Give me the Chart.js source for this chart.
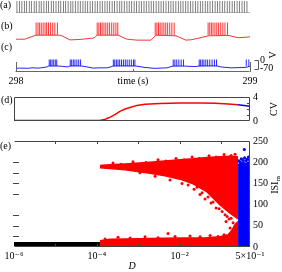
<!DOCTYPE html>
<html><head><meta charset="utf-8">
<script src="https://cdn.jsdelivr.net/npm/chart.js@4.4.1/dist/chart.umd.min.js"></script>
<style>
html,body{margin:0;padding:0;background:#fff;}
#wrap{position:relative;width:282px;height:272px;overflow:hidden;font-family:"Liberation Serif","DejaVu Serif",serif;}
canvas{position:absolute;}
.lbl{position:absolute;font-size:10px;line-height:10px;color:#000;white-space:nowrap;}
.rot{position:absolute;font-size:10px;line-height:10px;color:#000;white-space:nowrap;transform:translate(-50%,-50%) rotate(-90deg);}
.rot sub{font-size:7px;vertical-align:-2px;line-height:0;}
</style></head><body>
<div id="wrap">
<canvas id="cA" width="282" height="16" style="left:0;top:0"></canvas>
<canvas id="cB" width="282" height="25" style="left:0;top:18px"></canvas>
<canvas id="cC" width="282" height="45" style="left:0;top:43px"></canvas>
<canvas id="cD" width="282" height="42" style="left:0;top:88px"></canvas>
<canvas id="cE" width="282" height="140" style="left:0;top:132px"></canvas>
<div class="lbl" style="left:0;top:0">(a)</div>
<div class="lbl" style="left:1px;top:21px">(b)</div>
<div class="lbl" style="left:1px;top:42px">(c)</div>
<div class="lbl" style="left:1px;top:95px">(d)</div>
<div class="lbl" style="left:0;top:141px">(e)</div>
<div class="rot" style="left:273px;top:55px">V</div>
<div class="rot" style="left:274px;top:109px">CV</div>
<div class="rot" style="left:275px;top:185px">ISI<sub>m</sub></div>
</div>
<script>
// ---------- data ----------
const spikeTimesA = [298.004,298.015,298.025,298.036,298.045,298.057,298.066,298.078,298.087,298.099,298.108,298.119,298.130,298.139,298.151,298.160,298.171,298.182,298.191,298.203,298.212,298.223,298.234,298.243,298.254,298.265,298.275,298.286,298.296,298.306,298.317,298.327,298.338,298.348,298.359,298.369,298.380,298.390,298.400,298.411,298.421,298.432,298.443,298.452,298.463,298.474,298.484,298.494,298.505,298.515,298.526,298.536,298.547,298.557,298.568,298.578,298.588,298.599,298.610,298.620,298.630,298.641,298.652,298.662,298.672,298.683,298.694,298.704,298.714,298.725,298.735,298.746,298.756,298.767,298.777,298.788,298.798,298.809,298.819,298.829,298.840,298.851,298.861,298.871,298.882,298.892,298.903,298.913,298.924,298.934,298.945,298.955,298.966,298.976,298.987];

const traceTimesB = [298.000,298.038,298.073,298.085,298.179,298.192,298.231,298.274,298.333,298.340,298.347,298.436,298.474,298.517,298.577,298.598,298.684,298.726,298.752,298.821,298.906,298.949,298.991,299.000];
const traceVoltB  = [-62,-62,-49,-45,-45,-46,-65,-63,-57,-50,-45,-45,-62,-66,-66,-45,-48,-66,-64,-48,-46,-56,-53,-52];
const spikeTimesB = [298.086,298.094,298.101,298.108,298.116,298.124,298.131,298.139,298.148,298.157,298.166,298.177,
  298.347,298.354,298.361,298.368,298.376,298.384,298.392,298.400,298.409,298.418,298.427,298.435,
  298.595,298.602,298.609,298.616,298.624,298.632,298.640,298.648,298.657,298.666,298.676,
  298.821,298.828,298.835,298.842,298.850,298.858,298.866,298.875,298.884,298.893,298.904];
const spikeTroughB = -46, spikePeakB = 8;

const traceTimesC = [298.000,298.015,298.038,298.050,298.060,298.073,298.090,298.103,298.132,298.141,298.175,298.197,298.222,298.231,298.278,298.295,298.329,298.359,298.389,298.410,298.415,298.509,298.547,298.590,298.645,298.671,298.722,298.735,298.769,298.782,298.859,298.876,298.919,298.957,298.983,299.000];
const traceVoltC  = [-66,-64,-65,-66,-63,-62,-64,-63,-55,-47,-47,-50,-55,-47,-47,-52,-64,-62,-62,-52,-47,-47,-58,-66,-62,-48,-48,-50,-52,-47,-47,-55,-62,-60,-58,-50];
const spikeTimesC = [298.142,298.148,298.154,298.161,298.168,298.174,
  298.232,298.238,298.245,298.252,298.260,298.268,298.276,
  298.416,298.422,298.429,298.436,298.443,298.451,298.459,298.467,298.475,298.484,298.493,298.502,298.508,
  298.672,298.679,298.687,298.696,298.706,298.716,
  298.783,298.789,298.796,298.803,298.811,298.819,298.828,298.838,298.848,298.857,
  298.984,298.995];
const spikeTroughC = -50, spikePeakC = 3;
const timeTicks = [298, 298.5, 299];
const timeTickLabels = ['298', 'time (s)', '299'];
const voltTicksC = [0, -70];

const cvTicks = [0, 2, 4];
const dBlackD = [1e-6, 1.19e-4];
const cvBlackD = [0.08, 0.08];
const dRedD = [1.19e-4,1.6e-4,2.1e-4,2.8e-4,3.6e-4,4.8e-4,6.3e-4,9.3e-4,1.45e-3,3.4e-3,1.0e-2,3.1e-2,7.2e-2,0.149,0.257];
const cvRedD = [0.08,0.3,0.65,1.1,1.6,2.0,2.25,2.6,2.8,2.93,3.0,3.0,2.95,2.82,2.7];
const dBlueD = [0.257,0.36,0.5];
const cvBlueD = [2.7,2.6,2.45];

const isiTicks = [0, 50, 100, 150, 200, 250];
const dTicks = [1e-6, 1e-4, 1e-2, 0.5];
const dTickLabels = ['10\u207B\u2076', '10\u207B\u2074', '10\u207B\u00B2', '5\u00D710\u207B\u00B9'];
const dDecades = [1e-5, 1e-4, 1e-3, 1e-2, 1e-1];
const leftTickIsi = [25, 50, 75, 125, 150, 175, 200];
const dBlackBand = [1e-6, 1.19e-4];
const isiBlackBand = [7, 7];
const dLowRed = [1.19e-4,2.08e-4,4.8e-4,1.93e-3,1.02e-2,4.59e-2,9.46e-2,0.149,0.185,0.218,0.258];
const isiLowRedTop = [15,18,19,20,21,22,24,29,40,53,60];
const dUpRed = [1.19e-4,2.08e-4,4.8e-4,1.93e-3,4.44e-3,1.02e-2,2.11e-2,4.59e-2,9.46e-2,0.165,0.258];
const isiUpRedTop = [192,194,196,200,203,206,208,211,213,214,212];
const isiUpRedBottom = [187,185,182,174,168,160,149,130,99,80,66];
const dBlueE = [0.258,0.3,0.35,0.4,0.45,0.5];
const isiBlueTop = [194,197,199,196,200,198];
const dRedDots = [
  1.49e-4,2.46e-4,3.85e-4,7.48e-4,1.54e-3,3.01e-3,4.69e-3,8.18e-3,1.28e-2,2.00e-2,2.94e-2,5.13e-2,7.57e-2,0.118,0.175,0.218,
  1.10e-3,2.55e-3,5.86e-3,1.14e-2,1.60e-2,2.23e-2,2.63e-2,3.11e-2,3.48e-2,4.11e-2,4.85e-2,5.73e-2,6.41e-2,7.57e-2,8.95e-2,0.106,0.125,0.140,0.156,0.175,0.195,0.230,0.132,0.165,
  1.58e-4,3.25e-4,6.34e-4,1.46e-3,3.01e-3,5.25e-3,7.74e-3,1.78e-2,3.11e-2,5.42e-2,8.47e-2,0.118];
const isiRedDots = [
  191,198,195,201,199,206,203,209,206,212,209,215,212,218,216,219,
  175,167,158,150,146,136,141,124,128,113,118,104,106,92,90,84,76,72,66,68,57,50,60,45,
  19,23,21,24,22,32,25,26,24,27,25,29];
const dBlueDots = [0.27,0.29,0.31,0.34,0.37,0.40,0.43,0.46,0.49,0.365];
const isiBlueDots = [203,200,208,204,210,203,207,212,205,230];

// ---------- helpers ----------
const pts = (xs, ys) => xs.map((x, i) => ({x: x, y: ys[i]}));
const spikeSegs = (times, lo, hi) => times.flatMap(t => [{x:t,y:lo},{x:t,y:hi},{x:t,y:null}]);
const setTicks = arr => (s => { s.ticks = arr.map(v => ({value: v})); });

Chart.defaults.font.family = '"Liberation Serif","DejaVu Serif",serif';
Chart.defaults.font.size = 10;
Chart.defaults.color = '#000';
Chart.defaults.elements.point.radius = 0;
Chart.defaults.elements.line.tension = 0;

function baseOpts(pad){
  return {responsive:false, devicePixelRatio:1, animation:false, events:[],
    layout:{padding:pad}, plugins:{legend:{display:false}, tooltip:{enabled:false}}};
}

function decorPlugin(cfg){
  return {id:'decor', afterDatasetsDraw(chart){
    const ctx = chart.ctx, a = chart.chartArea;
    ctx.save(); ctx.lineWidth = 1;
    const L = Math.round(a.left)+0.5, R = Math.round(a.right)-0.5, T = Math.round(a.top)+0.5, B = Math.round(a.bottom)-0.5;
    if (cfg.box){
      ctx.strokeStyle = cfg.box.color; ctx.beginPath();
      const s = cfg.box.sides;
      if (s.includes('top')){ctx.moveTo(L,T);ctx.lineTo(R,T);}
      if (s.includes('right')){ctx.moveTo(R,T);ctx.lineTo(R,B);}
      if (s.includes('bottom')){ctx.moveTo(L-(cfg.box.extendLeft||0),B);ctx.lineTo(R,B);}
      if (s.includes('left')){ctx.moveTo(L,T);ctx.lineTo(L,B);}
      ctx.stroke();
    }
    (cfg.ticks||[]).forEach(tk => {
      const sc = chart.scales[tk.scale]; ctx.strokeStyle = tk.color;
      tk.values.forEach((v, i) => {
        const p = Math.round(sc.getPixelForValue(v)) + 0.5;
        const len = Array.isArray(tk.len) ? tk.len[i] : tk.len;
        ctx.beginPath();
        if (tk.edge === 'top'){ctx.moveTo(p,a.top);ctx.lineTo(p,a.top+len);}
        else if (tk.edge === 'bottom'){ctx.moveTo(p,a.bottom);ctx.lineTo(p,a.bottom-len);}
        else if (tk.edge === 'left'){const x0=a.left+(tk.offset||0);ctx.moveTo(x0,p);ctx.lineTo(x0+len,p);}
        else if (tk.edge === 'right'){ctx.moveTo(a.right,p);ctx.lineTo(a.right-len,p);}
        ctx.stroke();
      });
    });
    if (cfg.bracket){
      const b = cfg.bracket, sc = chart.scales[b.scale];
      const x = Math.round(a.right + b.dx) + 0.5;
      const y1 = Math.round(sc.getPixelForValue(b.from)) + 0.5, y2 = Math.round(sc.getPixelForValue(b.to)) + 0.5;
      ctx.strokeStyle = b.color; ctx.beginPath();
      ctx.moveTo(x-4,y1); ctx.lineTo(x,y1); ctx.lineTo(x,y2); ctx.lineTo(x-4,y2); ctx.stroke();
    }
    ctx.restore();
  }};
}

// ---------- (a) ----------
new Chart(document.getElementById('cA'), {
  type:'line',
  data:{datasets:[
    {data: spikeSegs(spikeTimesA, 0, 1), borderColor:'#808080', borderWidth:1, spanGaps:false},
    {data: [{x:298,y:0},{x:299,y:0}], borderColor:'#777', borderWidth:1}
  ]},
  options: Object.assign(baseOpts({left:16,right:32,top:1,bottom:3}), {
    scales:{x:{type:'linear',min:298,max:299,display:false}, y:{min:0,max:1,display:false}}
  })
});

// ---------- (b) ----------
new Chart(document.getElementById('cB'), {
  type:'line',
  data:{datasets:[
    {data: pts(traceTimesB, traceVoltB), borderColor:'#f33', borderWidth:1},
    {data: spikeSegs(spikeTimesB, spikeTroughB, spikePeakB), borderColor:'rgba(255,0,0,0.8)', borderWidth:1, spanGaps:false}
  ]},
  options: Object.assign(baseOpts({left:16,right:32,top:0,bottom:0}), {
    scales:{x:{type:'linear',min:298,max:299,display:false}, y:{min:-78,max:27,display:false}}
  })
});

// ---------- (c) + time axis ----------
new Chart(document.getElementById('cC'), {
  type:'line',
  data:{datasets:[
    {data: pts(traceTimesC, traceVoltC), borderColor:'#22f', borderWidth:1},
    {data: spikeSegs(spikeTimesC, spikeTroughC, spikePeakC), borderColor:'rgba(0,0,255,0.85)', borderWidth:1, spanGaps:false}
  ]},
  options: Object.assign(baseOpts({left:16,right:0,top:0,bottom:0}), {
    scales:{
      x:{type:'linear',min:298,max:299,position:'bottom',
        afterFit:s=>{s.height=16;}, afterBuildTicks:setTicks(timeTicks),
        grid:{display:false,drawTicks:false}, border:{display:false},
        ticks:{padding:3,autoSkip:false,maxRotation:0,callback:(v,i)=>timeTickLabels[i]}},
      y:{min:-94.5,max:7,position:'right',
        afterFit:s=>{s.width=32;}, afterBuildTicks:setTicks(voltTicksC),
        grid:{display:false,drawTicks:false}, border:{display:false},
        ticks:{padding:10,callback:v=>String(v)}}
    }
  }),
  plugins:[decorPlugin({
    box:{sides:['bottom'], color:'#666', extendLeft:1},
    ticks:[{scale:'x', edge:'bottom', values:timeTicks, len:[10,3,10], color:'#666'}],
    bracket:{scale:'y', from:0, to:-70, dx:8, color:'#555'}
  })]
});

// ---------- (d) ----------
new Chart(document.getElementById('cD'), {
  type:'line',
  data:{datasets:[
    {data: pts(dBlueD, cvBlueD), borderColor:'#00f', borderWidth:1.5},
    {data: pts(dRedD, cvRedD), borderColor:'#f00', borderWidth:1.5},
    {data: pts(dBlackD, cvBlackD), borderColor:'#333', borderWidth:1.5}
  ]},
  options: Object.assign(baseOpts({left:14,right:0,top:7,bottom:5}), {
    scales:{
      x:{type:'logarithmic',min:1e-6,max:0.5,display:false},
      y:{min:0,max:4,position:'right',
        afterFit:s=>{s.width=32;}, afterBuildTicks:setTicks(cvTicks),
        grid:{display:false,drawTicks:false}, border:{display:false},
        ticks:{padding:3}}
    }
  }),
  plugins:[decorPlugin({
    box:{sides:['top','right','bottom','left'], color:'#444'},
    ticks:[{scale:'y', edge:'right', values:[1,2,3], len:3, color:'#444'}]
  })]
});

// ---------- (e) ----------
new Chart(document.getElementById('cE'), {
  type:'line',
  data:{datasets:[
    {data: pts(dBlueDots, isiBlueDots), showLine:false, pointRadius:1.6, pointBorderWidth:0, pointBackgroundColor:'#00f', order:0},
    {data: pts(dRedDots, isiRedDots), showLine:false, pointRadius:1.5, pointBorderWidth:0, pointBackgroundColor:'#f00', order:1},
    {data: pts(dBlueE, isiBlueTop), borderColor:'#00f', backgroundColor:'#00f', borderWidth:1.5, fill:'origin', order:3},
    {data: pts(dUpRed, isiUpRedTop), borderColor:'#f00', backgroundColor:'#f00', borderWidth:1.5, fill:'+1', order:4},
    {data: pts(dUpRed, isiUpRedBottom), borderColor:'#f00', borderWidth:1.5, fill:false, order:4},
    {data: pts(dLowRed, isiLowRedTop), borderColor:'#f00', backgroundColor:'#f00', borderWidth:1.5, fill:'origin', order:5},
    {data: pts(dBlackBand, isiBlackBand), borderColor:'#000', borderWidth:4, order:2}
  ]},
  options: Object.assign(baseOpts({left:14,right:0,top:8,bottom:0}), {
    scales:{
      x:{type:'logarithmic',min:1e-6,max:0.5,position:'bottom',
        afterFit:s=>{s.height=25;}, afterBuildTicks:setTicks(dTicks),
        grid:{display:false,drawTicks:false}, border:{display:false},
        ticks:{padding:3,autoSkip:false,maxRotation:0,callback:(v,i)=>dTickLabels[i]},
        title:{display:true,text:'D',padding:0,font:{style:'italic',size:10}}},
      y:{min:0,max:250,position:'right',
        afterFit:s=>{s.width=32;}, afterBuildTicks:setTicks(isiTicks),
        grid:{display:false,drawTicks:false}, border:{display:false},
        ticks:{padding:3}}
    }
  }),
  plugins:[decorPlugin({
    box:{sides:['top','right','bottom'], color:'#444'},
    ticks:[
      {scale:'x', edge:'top', values:dDecades, len:3, color:'#444'},
      {scale:'x', edge:'bottom', values:dDecades, len:3, color:'#444'},
      {scale:'y', edge:'left', values:leftTickIsi, len:6, offset:-1, color:'#444'}
    ]
  })]
});
</script>
</body></html>
